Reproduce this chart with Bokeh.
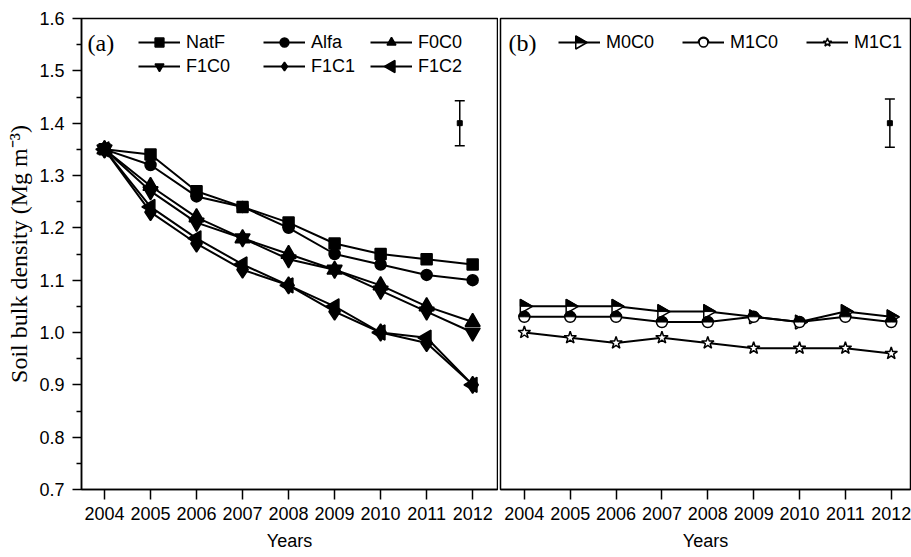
import numpy as np
from bokeh.plotting import figure
from bokeh.layouts import row
from bokeh.models import (ColumnDataSource, FixedTicker, PrintfTickFormatter, Legend,
                          LegendItem, Label, Whisker, TeeHead, Range1d, PolyAnnotation)
from bokeh.embed import file_html
from bokeh.resources import INLINE

# ---------------- data ----------------
years = [2004, 2005, 2006, 2007, 2008, 2009, 2010, 2011, 2012]
y_ticks = [0.7, 0.8, 0.9, 1.0, 1.1, 1.2, 1.3, 1.4, 1.5, 1.6]

natf = [1.35, 1.34, 1.27, 1.24, 1.21, 1.17, 1.15, 1.14, 1.13]
alfa = [1.35, 1.32, 1.26, 1.24, 1.20, 1.15, 1.13, 1.11, 1.10]
f0c0 = [1.35, 1.28, 1.22, 1.18, 1.15, 1.12, 1.09, 1.05, 1.02]
f1c0 = [1.35, 1.27, 1.21, 1.18, 1.14, 1.12, 1.08, 1.04, 1.00]
f1c1 = [1.35, 1.23, 1.17, 1.12, 1.09, 1.04, 1.00, 0.98, 0.90]
f1c2 = [1.35, 1.24, 1.18, 1.13, 1.09, 1.05, 1.00, 0.99, 0.90]

m0c0 = [1.05, 1.05, 1.05, 1.04, 1.04, 1.03, 1.02, 1.04, 1.03]
m1c0 = [1.03, 1.03, 1.03, 1.02, 1.02, 1.03, 1.02, 1.03, 1.02]
m1c1 = [1.00, 0.99, 0.98, 0.99, 0.98, 0.97, 0.97, 0.97, 0.96]

# representative error bars (x, mean, half-width)
err_a_x, err_a_y, err_a_e = [2011.72], [1.40], [0.043]
err_b_x, err_b_y, err_b_e = [2011.97], [1.40], [0.046]

SANS = "Liberation Sans"
SERIF = "Liberation Serif"

FIG_H = 557
BORDER_TOP = 18
BORDER_BOTTOM = 68
Y_RANGE = (0.7, 1.6)


def style_axes(p, show_y=True):
    p.xgrid.visible = False
    p.ygrid.visible = False
    p.outline_line_color = "black"
    p.outline_line_width = 1.5
    p.outline_line_alpha = 1
    p.background_fill_color = "white"
    p.border_fill_color = "white"
    xa = p.xaxis[0]
    xa.ticker = FixedTicker(ticks=years, minor_ticks=[])
    xa.axis_label = "Years"
    xa.axis_label_text_font = SANS
    xa.axis_label_text_font_style = "normal"
    xa.axis_label_text_font_size = "18px"
    xa.axis_label_text_color = "black"
    xa.axis_label_standoff = 8
    xa.major_label_text_font = SANS
    xa.major_label_text_font_size = "18px"
    xa.major_label_text_color = "black"
    xa.major_label_standoff = 7
    xa.major_tick_out = 10
    xa.major_tick_in = 0
    xa.minor_tick_out = 0
    xa.minor_tick_in = 0
    xa.axis_line_width = 1.5
    xa.major_tick_line_width = 1.5
    xa.axis_line_color = "black"
    xa.major_tick_line_color = "black"
    if show_y:
        ya = p.yaxis[0]
        minors = [round((a + b) / 2, 3) for a, b in zip(y_ticks[:-1], y_ticks[1:])]
        ya.ticker = FixedTicker(ticks=y_ticks, minor_ticks=minors)
        ya.formatter = PrintfTickFormatter(format="%.1f")
        ya.axis_label = "Soil bulk density (Mg m\u207b\u00b3)"
        ya.axis_label_text_font = SERIF
        ya.axis_label_text_font_style = "normal"
        ya.axis_label_text_font_size = "24px"
        ya.axis_label_text_color = "black"
        ya.axis_label_standoff = 4
        ya.major_label_text_font = SANS
        ya.major_label_text_font_size = "18px"
        ya.major_label_text_color = "black"
        ya.major_label_standoff = 8
        ya.major_tick_out = 9
        ya.major_tick_in = 0
        ya.minor_tick_out = 5
        ya.minor_tick_in = 0
        ya.axis_line_width = 1.5
        ya.major_tick_line_width = 1.5
        ya.minor_tick_line_width = 1.5
        ya.axis_line_color = "black"
        ya.major_tick_line_color = "black"
        ya.minor_tick_line_color = "black"
    else:
        p.yaxis.visible = False


def add_series(p, ys, marker, size, fill="black", angle=0.0):
    src = ColumnDataSource(dict(x=years, y=ys))
    lr = p.line("x", "y", source=src, line_color="black", line_width=2)
    sr = p.scatter("x", "y", source=src, marker=marker, size=size, angle=angle,
                   fill_color=fill, line_color="black", line_width=1.5)
    return lr, sr


def add_errbar(p, xs, ys, es):
    src = ColumnDataSource(dict(x=xs, y=ys,
                                upper=[a + b for a, b in zip(ys, es)],
                                lower=[a - b for a, b in zip(ys, es)]))
    w = Whisker(base="x", upper="upper", lower="lower", source=src, dimension="height",
                line_color="black", line_width=1.5,
                upper_head=TeeHead(size=10, line_width=1.5, line_color="black"),
                lower_head=TeeHead(size=10, line_width=1.5, line_color="black"))
    p.add_layout(w)
    p.scatter("x", "y", source=src, marker="square", size=5, fill_color="black", line_color="black")


def make_legend(items, vx, vy, orientation="vertical", spacing=2):
    return Legend(items=items, location=(vx, vy), orientation=orientation,
                  glyph_width=42, glyph_height=22, label_height=22, label_standoff=6,
                  spacing=spacing, padding=0, margin=0,
                  border_line_alpha=0, background_fill_alpha=0,
                  label_text_font=SANS, label_text_font_size="18px", label_text_color="black")


def tri_pts(cx, cy, size, direction):
    """Screen-space triangle (frame coords, y up) pointing left or right."""
    r = size / 2.0
    h = r * np.sqrt(3)
    if direction == "left":
        return [cx - 2 * h / 3, cx + h / 3, cx + h / 3], [cy, cy + r, cy - r]
    return [cx + 2 * h / 3, cx - h / 3, cx - h / 3], [cy, cy + r, cy - r]


# ---------------- panel (a) ----------------
A_W = 498
A_XR = (2003.5, 2012.54)
pa = figure(width=A_W, height=FIG_H, x_range=Range1d(*A_XR), y_range=Range1d(*Y_RANGE),
            output_backend="svg", toolbar_location=None,
            min_border_left=81, min_border_right=1, min_border_top=BORDER_TOP,
            min_border_bottom=BORDER_BOTTOM)
style_axes(pa, show_y=True)

r_natf = add_series(pa, natf, "square", 11)
r_alfa = add_series(pa, alfa, "circle", 11)
r_f0c0 = add_series(pa, f0c0, "triangle", 15)
r_f1c0 = add_series(pa, f1c0, "inverted_triangle", 15)
r_f1c1 = add_series(pa, f1c1, "diamond", 17)
r_f1c2 = add_series(pa, f1c2, "triangle", 15, angle=np.pi / 2)
add_errbar(pa, err_a_x, err_a_y, err_a_e)

LEG_A_VY = 412
pa.add_layout(make_legend([LegendItem(label="NatF", renderers=list(r_natf)),
                           LegendItem(label="F1C0", renderers=list(r_f1c0))], 57, LEG_A_VY))
pa.add_layout(make_legend([LegendItem(label="Alfa", renderers=list(r_alfa)),
                           LegendItem(label="F1C1", renderers=list(r_f1c1))], 182, LEG_A_VY))
pa.add_layout(make_legend([LegendItem(label="F0C0", renderers=list(r_f0c0)),
                           LegendItem(label="F1C2", renderers=[r_f1c2[0]])], 289, LEG_A_VY))
# left-pointing legend marker for F1C2 (legend glyphs are not rotated by bokeh)
lx, ly = tri_pts(289 + 21, LEG_A_VY + 11, 12, "left")
pa.add_layout(PolyAnnotation(xs=lx, ys=ly, xs_units="screen", ys_units="screen",
                             fill_color="black", fill_alpha=1, line_color="black",
                             line_width=1.5, line_alpha=1))
pa.add_layout(Label(x=6, y=447, x_units="screen", y_units="screen", text="(a)",
                    text_font=SERIF, text_font_size="24px", text_color="black",
                    text_baseline="middle"))

# ---------------- panel (b) ----------------
B_W = 413
B_XR = (2003.48, 2012.42)
pb = figure(width=B_W, height=FIG_H, x_range=Range1d(*B_XR), y_range=Range1d(*Y_RANGE),
            output_backend="svg", toolbar_location=None,
            min_border_left=2, min_border_right=1, min_border_top=BORDER_TOP,
            min_border_bottom=BORDER_BOTTOM)
style_axes(pb, show_y=False)

# pixel scales of panel b frame (to build half-filled markers around data points)
sx = (B_W - 3) / (B_XR[1] - B_XR[0])
sy = (FIG_H - BORDER_TOP - BORDER_BOTTOM) / (Y_RANGE[1] - Y_RANGE[0])

r_m0c0 = add_series(pb, m0c0, "triangle", 14, fill="white", angle=-np.pi / 2)
tri_r, tri_h = 7.0, 7.0 * np.sqrt(3)
half_xs = [[x - tri_h / 3 / sx, x - tri_h / 3 / sx, x + 2 * tri_h / 3 / sx] for x in years]
half_ys = [[y + tri_r / sy, y, y] for y in m0c0]
pb.patches(half_xs, half_ys, fill_color="black", line_color="black", line_width=1)

r_m1c0 = add_series(pb, m1c0, "circle", 11, fill="white")
src_half = ColumnDataSource(dict(x=years, y=m1c0))
pb.wedge("x", "y", radius=5.5, radius_units="screen", start_angle=0, end_angle=np.pi,
         source=src_half, fill_color="black", line_color="black", line_width=1)
r_m1c1 = add_series(pb, m1c1, "star", 13, fill="white")
add_errbar(pb, err_b_x, err_b_y, err_b_e)

LEG_B_VX, LEG_B_VY = 58, 436
pb.add_layout(make_legend([LegendItem(label="M0C0", renderers=[r_m0c0[0]]),
                           LegendItem(label="M1C0", renderers=list(r_m1c0)),
                           LegendItem(label="M1C1", renderers=list(r_m1c1))],
                          LEG_B_VX, LEG_B_VY, orientation="horizontal", spacing=28))
# right-pointing, top-half filled legend marker for M0C0
cx0, cy0 = LEG_B_VX + 21, LEG_B_VY + 11
tx, ty = tri_pts(cx0, cy0, 13, "right")
pb.add_layout(PolyAnnotation(xs=tx, ys=ty, xs_units="screen", ys_units="screen",
                             fill_color="white", fill_alpha=1, line_color="black",
                             line_width=1.5, line_alpha=1))
pb.add_layout(PolyAnnotation(xs=[tx[1], tx[1], tx[0]], ys=[ty[1], cy0, cy0],
                             xs_units="screen", ys_units="screen",
                             fill_color="black", fill_alpha=1, line_color="black",
                             line_width=1, line_alpha=1))
# top-half filled legend marker for M1C0
cx1 = LEG_B_VX + 42 + 6 + 48 + 28 + 21
th = np.linspace(0, np.pi, 13)
pb.add_layout(PolyAnnotation(xs=list(cx1 + 5.5 * np.cos(th)), ys=list(cy0 + 5.5 * np.sin(th)),
                             xs_units="screen", ys_units="screen",
                             fill_color="black", fill_alpha=1, line_color="black",
                             line_width=1, line_alpha=1))
pb.add_layout(Label(x=8, y=447, x_units="screen", y_units="screen", text="(b)",
                    text_font=SERIF, text_font_size="24px", text_color="black",
                    text_baseline="middle"))

layout = row(pa, pb, spacing=0)
open("out.html", "w").write(file_html(layout, INLINE))
